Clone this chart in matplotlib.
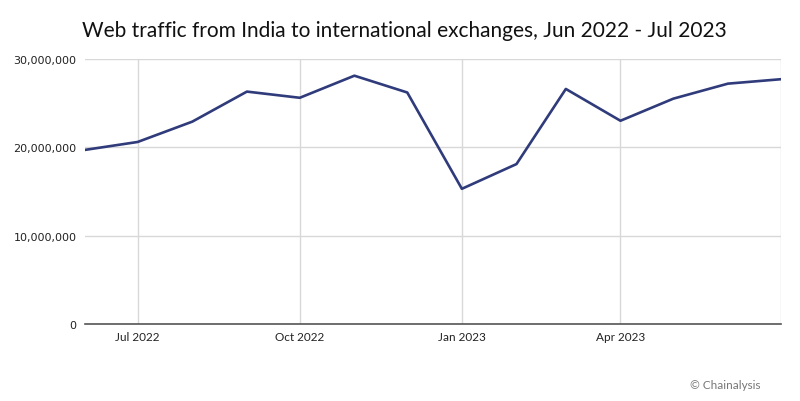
import matplotlib
matplotlib.use('Agg')
import matplotlib.pyplot as plt
import matplotlib.ticker as ticker
import datetime as dt

# datos mensuales (Jun 2022 - Jul 2023)
meses = ['2022-06', '2022-07', '2022-08', '2022-09', '2022-10', '2022-11', '2022-12',
         '2023-01', '2023-02', '2023-03', '2023-04', '2023-05', '2023-06', '2023-07']
trafico = [19.7e6, 20.6e6, 22.9e6, 26.3e6, 25.6e6, 28.1e6, 26.2e6,
           15.3e6, 18.1e6, 26.6e6, 23.0e6, 25.5e6, 27.2e6, 27.7e6]
ticks_x = ['2022-07', '2022-10', '2023-01', '2023-04', '2023-07']
etiquetas_x = ['Jul 2022', 'Oct 2022', 'Jan 2023', 'Apr 2023', '']

fechas = [dt.datetime.strptime(m, '%Y-%m') for m in meses]
fechas_ticks = [dt.datetime.strptime(m, '%Y-%m') for m in ticks_x]

fig = plt.figure(figsize=(8, 4.02), dpi=100)
ax = fig.add_axes([0.106, 0.1915, 0.87, 0.6595])

ax.plot(fechas, trafico, color='#2f3b7a', linewidth=1.9, zorder=3)

ax.set_xlim(fechas[0], fechas[-1])
ax.set_ylim(0, 30e6)
ax.set_yticks([0, 10e6, 20e6, 30e6])
ax.yaxis.set_major_formatter(ticker.FuncFormatter(lambda v, p: f'{int(v):,}'))
ax.set_xticks(fechas_ticks)
ax.set_xticklabels(etiquetas_x, fontfamily='Lato', fontsize=8.5, color='#222222')

for lab in ax.get_yticklabels():
    lab.set_fontsize(8)
    lab.set_color('#222222')

ax.grid(True, color='#d8d8d8', linewidth=1)
ax.set_axisbelow(True)
for s in ['top', 'right', 'left']:
    ax.spines[s].set_visible(False)
ax.spines['bottom'].set_color('#555555')
ax.spines['bottom'].set_linewidth(1.2)
ax.tick_params(axis='y', length=0, pad=6)
ax.tick_params(axis='x', length=0, pad=5)

fig.text(0.506, 0.923, 'Web traffic from India to international exchanges, Jun 2022 - Jul 2023',
         ha='center', va='center', fontsize=15, fontfamily='Lato', color='#111111')
fig.text(0.95, 0.042, '© Chainalysis', ha='right', va='center', fontsize=8.5,
         fontfamily='Lato', color='#777777')

fig.savefig('out.png', dpi=100)
